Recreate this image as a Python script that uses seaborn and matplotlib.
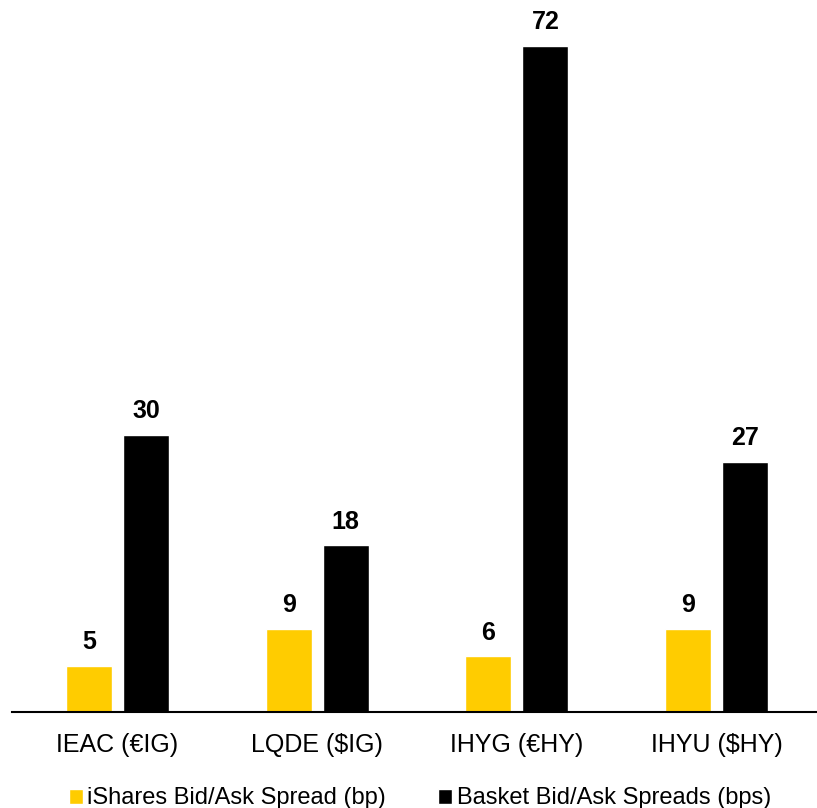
import numpy as np
import pandas as pd
import seaborn as sns
import matplotlib.pyplot as plt

# data
funds = ["IEAC (€IG)", "LQDE ($IG)", "IHYG (€HY)", "IHYU ($HY)"]
ishares = [5, 9, 6, 9]
basket = [30, 18, 72, 27]
series = ["iShares Bid/Ask Spread (bp)", "Basket Bid/Ask Spreads (bps)"]

df = pd.DataFrame({
    "fund": funds * 2,
    "spread": ishares + basket,
    "serie": [series[0]] * 4 + [series[1]] * 4,
})

sns.set_style("white")
plt.rcParams['font.family'] = ['Liberation Sans', 'DejaVu Sans']
plt.rcParams['text.color'] = 'black'
plt.rcParams['xtick.color'] = 'black'

fig = plt.figure(figsize=(8.17, 8.08), dpi=100)
ax = fig.add_axes([0.015, 0.119, 0.985, 0.881])
sns.barplot(data=df, x="fund", y="spread", hue="serie",
            palette=["#FFCC00", "#000000"], width=0.57, gap=0.19,
            saturation=1, ax=ax, legend=True)

for c in ax.containers:
    ax.bar_label(c, padding=8.5, fontsize=18, fontweight="bold", color="black")

ax.set_ylim(0, 77)
ax.set_xlim(-0.527, 3.503)
ax.set_xlabel("")
ax.set_ylabel("")
ax.set_yticks([])
ax.tick_params(axis="x", labelsize=18, length=0, pad=15)
sns.despine(ax=ax, left=True, top=True, right=True)
ax.spines["bottom"].set_color("black")
ax.spines["bottom"].set_linewidth(1.5)

h, l = ax.get_legend_handles_labels()
ax.get_legend().remove()
fig.legend(h, l, loc="lower center", bbox_to_anchor=(0.514, -0.028), ncol=2,
           frameon=False, fontsize=17, handlelength=0.6, handleheight=0.6,
           handletextpad=0.2, columnspacing=2.2)

plt.savefig("out.png", dpi=100)
